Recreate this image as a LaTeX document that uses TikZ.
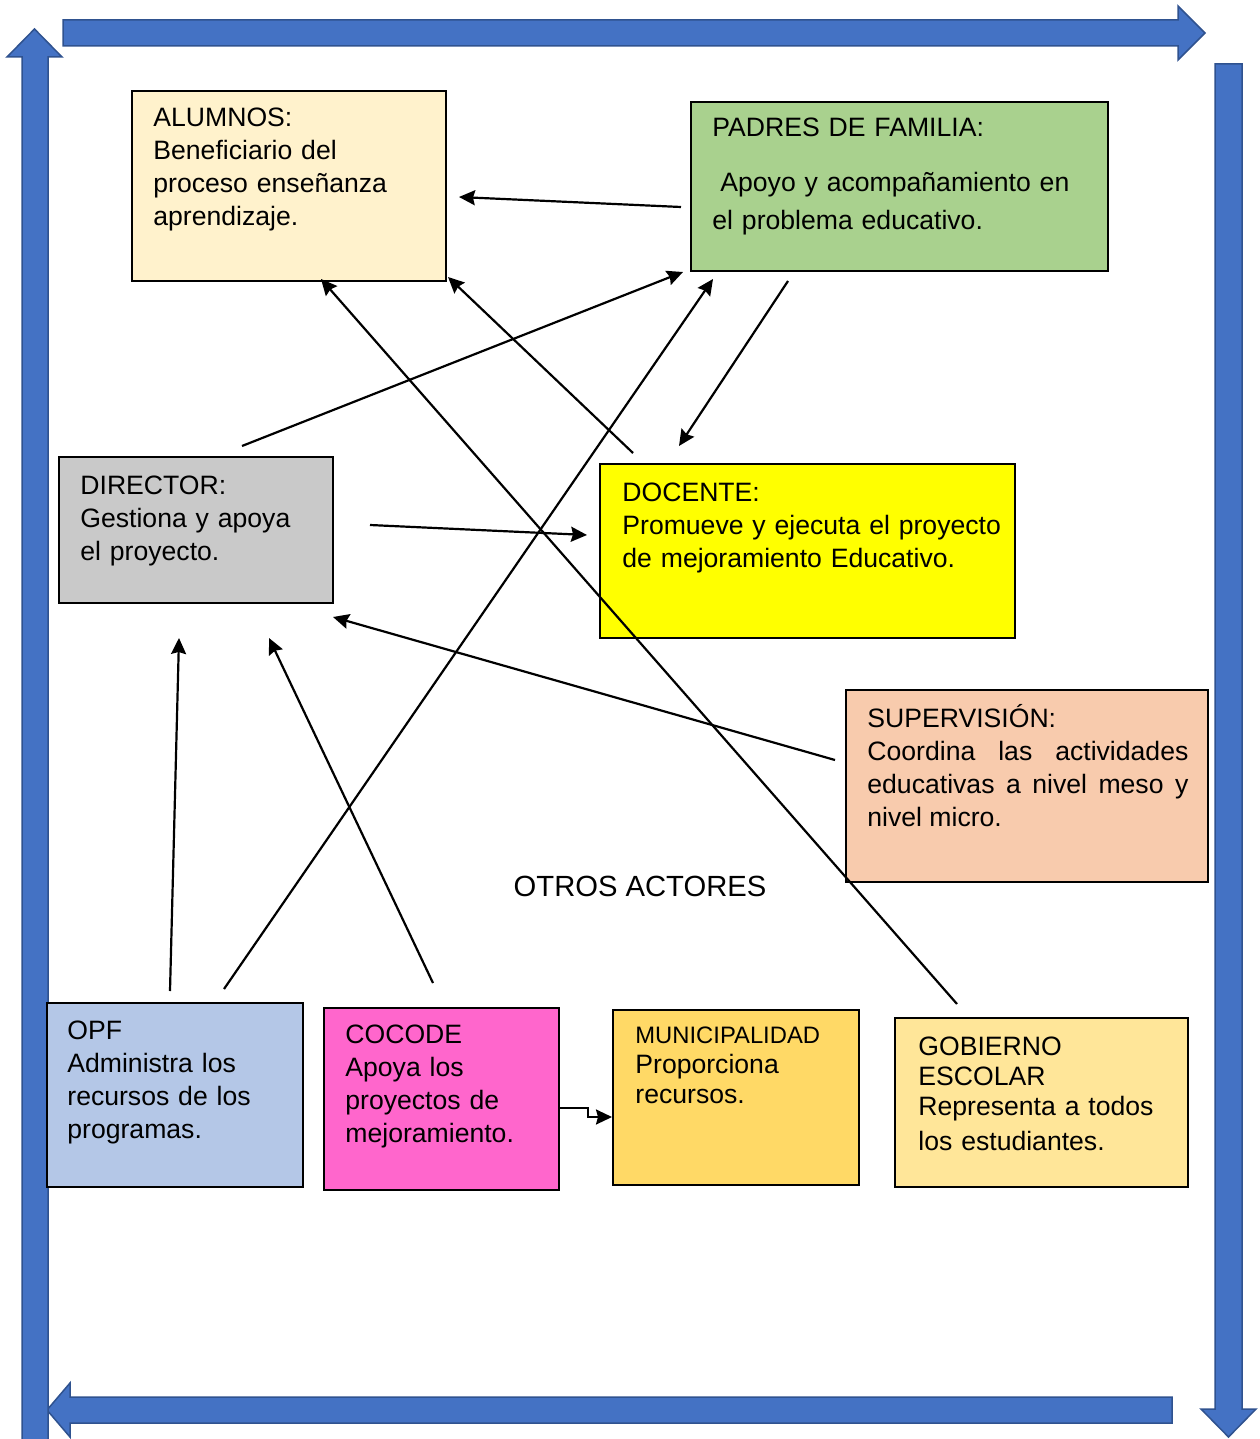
\documentclass[tikz,border=0pt]{standalone}
\usepackage{fontspec}
\setmainfont{Liberation Sans}
\usetikzlibrary{arrows.meta}
\definecolor{azul}{HTML}{4472C4}
\definecolor{azulborde}{HTML}{2F528F}
\definecolor{alumnoscol}{HTML}{FFF2CC}
\definecolor{padrescol}{HTML}{A9D18E}
\definecolor{directorcol}{HTML}{C9C9C9}
\definecolor{docentecol}{HTML}{FFFF00}
\definecolor{supervcol}{HTML}{F8CBAD}
\definecolor{opfcol}{HTML}{B4C7E7}
\definecolor{cocodecol}{HTML}{FF66CC}
\definecolor{municol}{HTML}{FFD966}
\definecolor{gobiernocol}{HTML}{FFE699}
\tikzset{
  caja/.style={draw=black, line width=0.75pt},
  texto/.style={anchor=base west, inner sep=0pt, text width=205pt, align=left, font=\fontsize{13.3}{16.5}\selectfont},
  conector/.style={line width=1.1pt, -{Stealth[length=8pt,width=7.5pt,inset=1pt]}},
  flechaazul/.style={fill=azul, draw=azulborde, line width=0.75pt, line join=miter},
}

\begin{document}
\begin{tikzpicture}[x=0.5pt,y=-0.5pt]
		\useasboundingbox (0,0) rectangle (1259,1439);
		%%%%% FLECHAS %%%%%
		
		\draw[flechaazul] (63,20) -- (1178,20) -- (1178,6) -- (1205,33) -- (1178,60) -- (1178,46) -- (63,46) -- cycle;
		\draw[flechaazul] (1215,64) -- (1242,64) -- (1242,1409) -- (1256,1409) -- (1228.5,1437) -- (1201,1409) -- (1215,1409) -- cycle;
		\draw[flechaazul] (1172,1397) -- (70,1397) -- (70,1383) -- (47,1410) -- (70,1437) -- (70,1423) -- (1172,1423) -- cycle;
		\draw[flechaazul] (22,1450) -- (22,57) -- (7,57) -- (34.5,29) -- (62,57) -- (48,57) -- (48,1450) -- cycle;
		
		%%%%% CAJAS %%%%%
		
		\draw[caja, fill=alumnoscol] (132,91) rectangle (446,281);
		\node[texto] (alumnos) at (153,127) {ALUMNOS:\\Beneficiario del\\proceso enseñanza\\aprendizaje.};
		
		\draw[caja, fill=padrescol] (691,102) rectangle (1108,271);
		\node[texto] (padres) at (712,137) {PADRES DE FAMILIA:\\[11pt]\hspace*{4pt}Apoyo y acompañamiento en\\[2.5pt]el problema educativo.};
		
		\draw[caja, fill=directorcol] (59,457) rectangle (333,603);
		\node[texto] (director) at (80,494) {DIRECTOR:\\Gestiona y apoya\\el proyecto.};
		
		\draw[caja, fill=docentecol] (600,464) rectangle (1015,638);
		\node[texto] (docente) at (622,501) {DOCENTE:\\Promueve y ejecuta el proyecto\\de mejoramiento Educativo.};
		
		\draw[caja, fill=supervcol] (846,690) rectangle (1208,882);
		\node[texto, text width=160.5pt, align=justify] (supervision) at (867,727) {SUPERVISIÓN:\\Coordina las actividades\linebreak educativas a nivel meso y\linebreak nivel micro.};
		
		\node[texto, text width=, anchor=base, font=\fontsize{14.6}{17}\selectfont] (otros) at (640,896) {OTROS ACTORES};
		
		\draw[caja, fill=opfcol] (47,1003) rectangle (303,1187);
		\node[texto] (opf) at (67,1039) {OPF\\Administra los\\recursos de los\\programas.};
		
		\draw[caja, fill=cocodecol] (324,1008) rectangle (559,1190);
		\node[texto] (cocode) at (345,1043) {COCODE\\Apoya los\\proyectos de\\mejoramiento.};
		
		\draw[caja, fill=municol] (613,1010) rectangle (859,1185);
		\node[texto, font=\fontsize{13.3}{15}\selectfont] (muni) at (635,1043) {{\fontsize{11.9}{15}\selectfont MUNICIPALIDAD}\\Proporciona\\recursos.};
		
		\draw[caja, fill=gobiernocol] (895,1018) rectangle (1188,1187);
		\node[texto, font=\fontsize{13.3}{15.2}\selectfont] (gobierno) at (918,1055) {GOBIERNO\\ESCOLAR\\Representa a todos\\[2pt]los estudiantes.};
		
		%%%%% CONECTORES %%%%%
		
		\coordinate (padres-a) at (681,207);
		\coordinate (alumnos-a) at (459,197);
		\coordinate (director-p) at (242,446);
		\coordinate (padres-d) at (683,272);
		\coordinate (opf-p) at (224,989);
		\coordinate (padres-o) at (713,279);
		\coordinate (padres-doc) at (788,281);
		\coordinate (docente-p) at (679,446);
		\coordinate (docente-a) at (633,453);
		\coordinate (alumnos-doc) at (448,277);
		\coordinate (gobierno-a) at (957,1004);
		\coordinate (alumnos-g) at (321,279);
		\coordinate (director-doc) at (370,525);
		\coordinate (docente-d) at (587,535);
		\coordinate (superv-d) at (835,760);
		\coordinate (director-s) at (333,617);
		\coordinate (opf-d) at (170,991);
		\coordinate (director-o) at (179,638);
		\coordinate (cocode-d) at (433,983);
		\coordinate (director-c) at (269,638);
		\coordinate (cocode-m) at (560,1108);
		\coordinate (muni-c) at (612,1117);
		
		\draw[conector] (padres-a) -- (alumnos-a);
		\draw[conector] (director-p) -- (padres-d);
		\draw[conector] (opf-p) -- (padres-o);
		\draw[conector] (padres-doc) -- (docente-p);
		\draw[conector] (docente-a) -- (alumnos-doc);
		\draw[conector] (gobierno-a) -- (alumnos-g);
		\draw[conector] (director-doc) -- (docente-d);
		\draw[conector] (superv-d) -- (director-s);
		\draw[conector] (opf-d) -- (director-o);
		\draw[conector] (cocode-d) -- (director-c);
		\draw[conector] (cocode-m) -- (588,1108) -- (588,1117) -- (muni-c);
		
\end{tikzpicture}
\end{document}
